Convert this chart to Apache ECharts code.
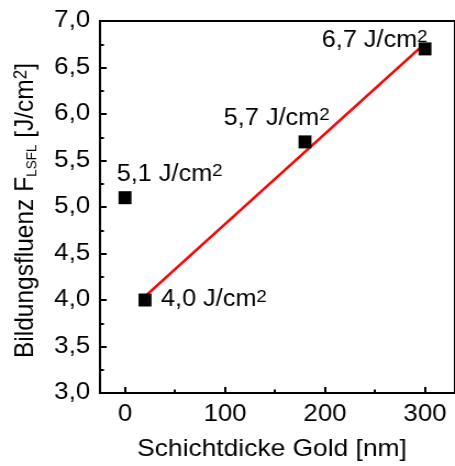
<!DOCTYPE html>
<html>
<head>
<meta charset="utf-8">
<script src="https://cdn.jsdelivr.net/npm/echarts@6.0.0/dist/echarts.min.js"></script>
<style>
  html, body { margin: 0; padding: 0; background: #fff; overflow: hidden; }
  /* the chart is laid out narrower and widened, which gives the broad lettering */
  #chart { width: 414px; height: 466px; transform: scaleX(1.099); transform-origin: 0 0; }
</style>
</head>
<body>
<div id="chart"></div>
<script>
// Gold layer thickness (nm) and LSFL formation fluence (J/cm²)
const thickness = [0, 20, 180, 300];
const fluence = [5.1, 4.0, 5.7, 6.7];

// Linear fit through the coated samples
const fitThickness = [20, 300];
const fitFluence = [4.04, 6.76];

// Axis ticks
const xMajorTicks = [0, 100, 200, 300];
const xMinorTicks = [50, 150, 250];
const yMin = 3.0, yMax = 7.0, yStep = 0.5;

// Where each value label sits next to its marker
const labelShift = [[-7.6, -23.3], [14.5, 0], [-74, -23.4], [-94, -8.3]];

const FONT = '"Liberation Sans", Arial, sans-serif';
const INK = '#000';
const comma = v => v.toFixed(1).replace('.', ',');

const chart = echarts.init(document.getElementById('chart'), null, { renderer: 'canvas' });

const labelRich = {
  m: { fontSize: 23, lineHeight: 23, color: INK, fontFamily: FONT },
  s: { fontSize: 17, lineHeight: 7, verticalAlign: 'top', color: INK, fontFamily: FONT }
};

const points = thickness.map((x, i) => ({
  value: [x, fluence[i]],
  label: {
    show: true,
    position: 'inside',
    align: 'left',
    verticalAlign: 'middle',
    offset: labelShift[i],
    formatter: '{m|' + comma(fluence[i]) + ' J/cm}{s|2}',
    rich: labelRich
  }
}));

const axisBlack = { color: INK, width: 2 };

chart.setOption({
  animation: false,
  grid: {
    left: 91, right: -7, top: 21, bottom: 66.5,
    show: true, borderColor: INK, borderWidth: 2, backgroundColor: 'transparent'
  },
  xAxis: [
    {
      type: 'value', min: -25, max: 330,
      position: 'bottom',
      splitLine: { show: false },
      axisLine: { show: true, onZero: false, lineStyle: axisBlack },
      axisTick: { show: true, inside: true, length: 6, lineStyle: axisBlack, customValues: xMajorTicks },
      axisLabel: {
        customValues: xMajorTicks, margin: 10,
        fontSize: 23.5, color: INK, fontFamily: FONT
      },
      name: 'Schichtdicke Gold [nm]',
      nameLocation: 'middle',
      nameGap: 44,
      nameTextStyle: { fontSize: 24, color: INK, fontFamily: FONT, padding: [0, 10, 0, 0] }
    },
    {
      type: 'value', min: -25, max: 330,
      position: 'bottom',
      splitLine: { show: false },
      axisLine: { show: false, onZero: false },
      axisLabel: { show: false },
      axisTick: { show: true, inside: true, length: 3.5, lineStyle: axisBlack, customValues: xMinorTicks }
    }
  ],
  yAxis: {
    type: 'value', min: yMin, max: yMax, interval: yStep,
    splitLine: { show: false },
    axisLine: { show: true, onZero: false, lineStyle: axisBlack },
    axisTick: { show: true, inside: true, length: 6, lineStyle: axisBlack },
    minorTick: { show: true, splitNumber: 2, length: 3.5, lineStyle: axisBlack },
    axisLabel: {
      margin: 9, fontSize: 23.5, color: INK, fontFamily: FONT,
      formatter: v => comma(v)
    },
    name: '{m|Bildungsfluenz F}{sub|LSFL}{m| [J/cm}{sup|2}{m|]}',
    nameLocation: 'middle',
    nameGap: 55,
    nameRotate: 90,
    nameTextStyle: {
      color: INK, fontFamily: FONT,
      padding: [0, 7, 0, 0],
      rich: {
        m: { fontSize: 24.5, lineHeight: 25, color: INK, fontFamily: FONT },
        sub: { fontSize: 13.5, lineHeight: 14, verticalAlign: 'bottom', color: INK, fontFamily: FONT },
        sup: { fontSize: 17, lineHeight: 8, verticalAlign: 'top', color: INK, fontFamily: FONT }
      }
    }
  },
  series: [
    {
      type: 'line',
      xAxisIndex: 0,
      data: fitThickness.map((x, i) => [x, fitFluence[i]]),
      symbol: 'none',
      lineStyle: { color: '#ff0000', width: 2.5 },
      z: 2,
      silent: true
    },
    {
      type: 'scatter',
      xAxisIndex: 0,
      data: points,
      symbol: 'rect',
      symbolSize: [11.8, 13],
      itemStyle: { color: INK, opacity: 1 },
      z: 3,
      silent: true
    }
  ]
});
</script>
</body>
</html>
